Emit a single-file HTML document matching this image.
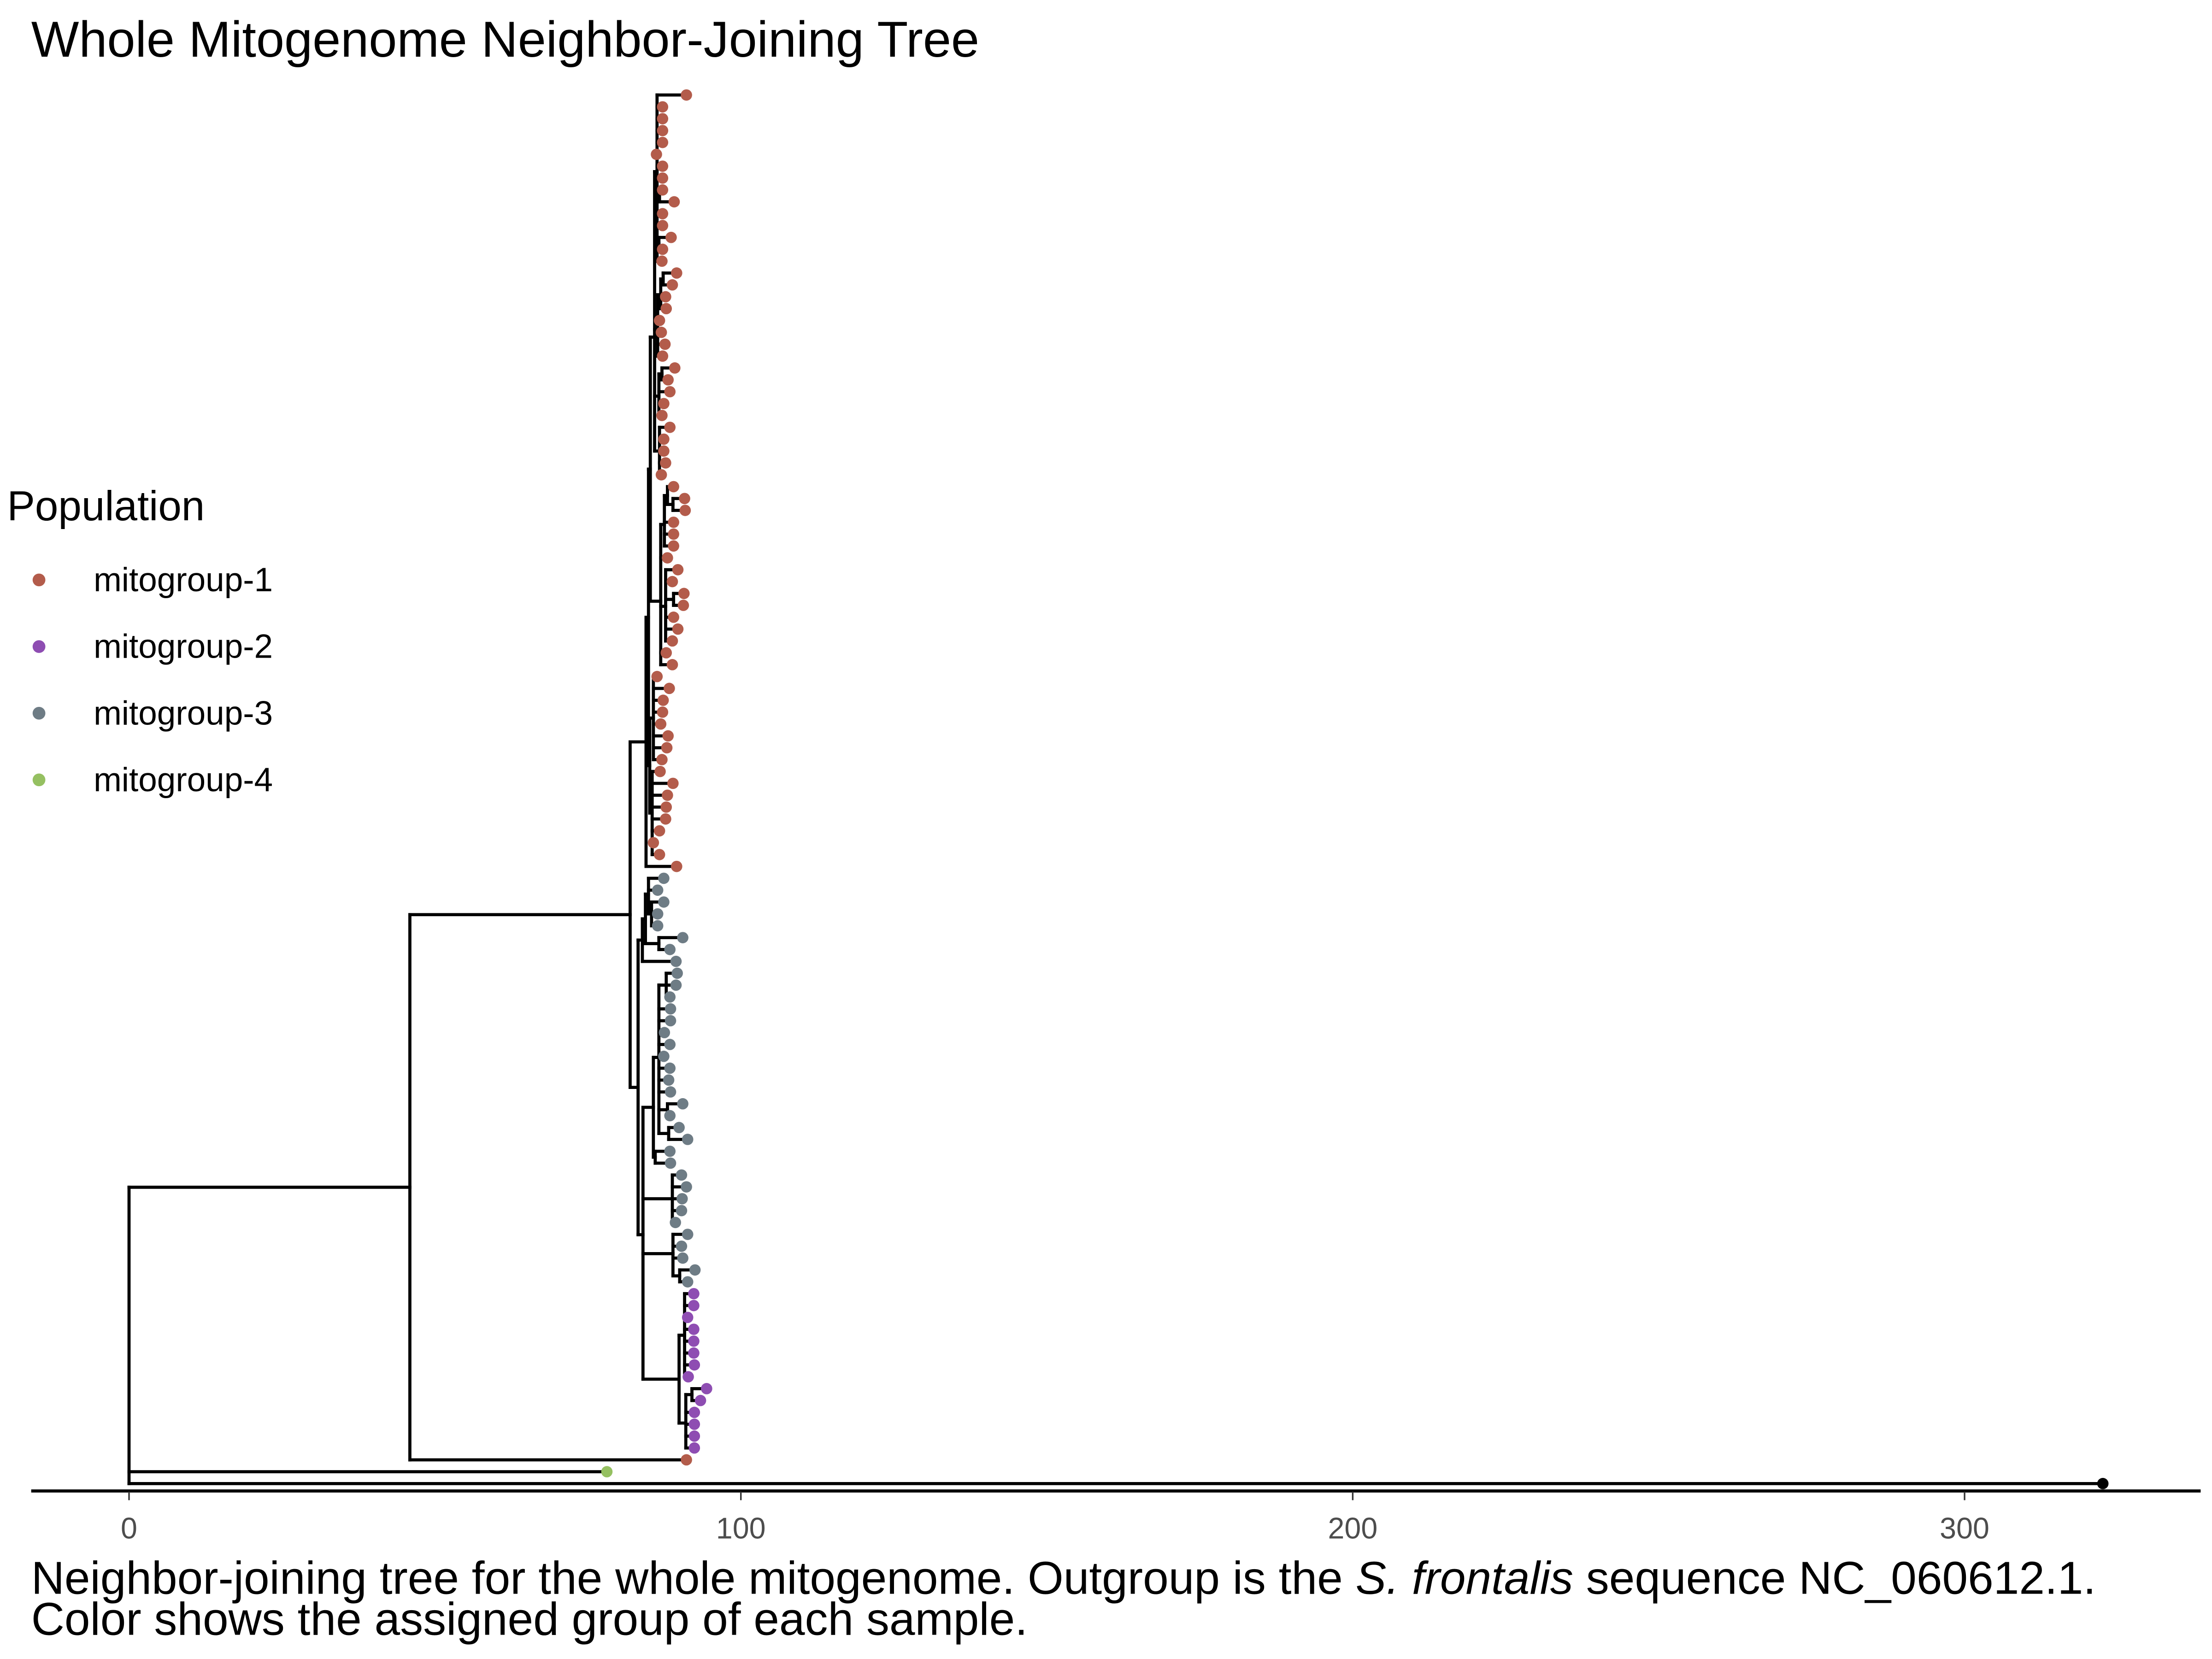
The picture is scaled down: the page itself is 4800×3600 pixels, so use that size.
<!DOCTYPE html>
<html><head><meta charset="utf-8"><style>
html,body{margin:0;padding:0;background:#fff;}
svg{display:block;}
text{font-family:"Liberation Sans",sans-serif;}
</style></head><body>
<svg id="chart" width="4800" height="3600" viewBox="0 0 1560 1170" xmlns="http://www.w3.org/2000/svg">
<text x="22" y="40" font-size="35.7" fill="#000">Whole Mitogenome Neighbor-Joining Tree</text>
<g id="tree"></g>
<g id="axis"></g>
<g>
<text x="5" y="367" font-size="29.5">Population</text>
<circle cx="27.5" cy="409" r="4.5" fill="#b35c4b"/>
<text x="66" y="417" font-size="23.7">mitogroup-1</text>
<circle cx="27.5" cy="456" r="4.5" fill="#8e4db2"/>
<text x="66" y="464" font-size="23.7">mitogroup-2</text>
<circle cx="27.5" cy="503" r="4.5" fill="#6e7c85"/>
<text x="66" y="511" font-size="23.7">mitogroup-3</text>
<circle cx="27.5" cy="550" r="4.5" fill="#95c061"/>
<text x="66" y="558" font-size="23.7">mitogroup-4</text>
</g>
<text x="22" y="1124" font-size="32.5">Neighbor-joining tree for the whole mitogenome. Outgroup is the <tspan font-style="italic">S. frontalis</tspan> sequence NC_060612.1.</text>
<text x="22" y="1153" font-size="32.5">Color shows the assigned group of each sample.</text>
</svg>
<script>
const tipDist = [
91.1,87.2,87.2,87.2,87.2,86.2,87.2,87.2,87.2,89.1,
87.2,87.2,88.6,87.2,87.1,89.5,88.8,87.7,87.8,86.7,
87.0,87.6,87.2,89.2,88.1,88.4,87.4,87.1,88.4,87.4,
87.4,87.7,87.0,89.0,90.8,90.9,89.0,89.0,89.0,88.0,
89.7,88.8,90.7,90.6,89.0,89.7,88.8,87.8,88.8,86.3,
88.3,87.3,87.2,86.9,88.1,87.9,87.1,86.8,88.9,88.0,
87.8,87.7,86.7,85.7,86.7,89.5,
87.4,86.4,87.4,86.4,86.4,90.5,88.4,89.4,89.6,89.4,
88.4,88.5,88.5,87.5,88.4,87.4,88.4,88.2,88.5,90.5,
88.4,89.9,91.3,88.4,88.5,90.3,91.1,90.4,90.3,89.3,
91.3,90.3,90.5,92.5,91.3,
92.3,92.3,91.3,92.3,92.3,92.3,92.4,91.4,94.4,93.4,92.4,92.4,92.4,92.4,
91.1,78.1,322.6];
const tipGroup = [].concat(
  Array(66).fill(1), Array(35).fill(3), Array(14).fill(2), [1,4,0]);
const groupColors = ["#000000","#b35c4b","#8e4db2","#6e7c85","#95c061"];
const xTicks = [0,100,200,300];
// topology: [nodeDistance, children...]; numbers are tip indices
const redUpper = [85.2,
  [85.9,[86.3,0,1,2,3,4,5,6,7,[86.7,8,9],10,11,[86.6,12,13],14],[86.4,[86.9,[87.3,15,16],17,18],19,20,21,22],[86.6,[87.1,23,24],25,26,27],[86.7,28,29,30,31,32]],
  [86.9,[87.5,[88.0,33,[88.9,34,35]],36,37,38],39,[87.7,40,41,[89.0,42,43],44,45,46],47,48]];
const redLower = [85.1,[85.7,49,50,51,52,53,54,55,56],[85.5,57,58,59,60,61,62,63,64]];
const redClade = [84.5,[84.9,redUpper,redLower],65];
const lowerClade = [83.2,
 [83.9,[84.4,[84.9,66,67,[85.4,68,69,70]],[86.6,71,72]],73],
 [84.0,
  [85.7,[86.6,[87.8,74,75,76],77,78,79,80,81,82,83,84,[88.0,85,86],[88.2,87,88]],[86.0,89,90]],
  [88.8,91,92,93,94,95],
  [88.9,96,97,98,[90.0,99,100]],
  [89.9,[90.8,101,102,103,104,105,106,107,108],[91.0,[92.0,109,110],111,112,113,114]]]];
const treeRoot = [0,[45.9,[81.9,redClade,lowerClade],115],116,117];

const NS="http://www.w3.org/2000/svg";
const X0=91, XS=4.315, Y0=67, YS=8.37;
const xScale=d=>X0+d*XS;
const yScale=i=>Y0+i*YS;
const tree=document.getElementById('tree');
const lines=document.createElementNS(NS,'g');
const pts=document.createElementNS(NS,'g');
tree.appendChild(lines);tree.appendChild(pts);
function line(x1,y1,x2,y2,name){
  const l=document.createElementNS(NS,'line');
  l.setAttribute('x1',x1);l.setAttribute('y1',y1);l.setAttribute('x2',x2);l.setAttribute('y2',y2);
  l.setAttribute('stroke','#000');l.setAttribute('stroke-width','2.2');l.setAttribute('stroke-linecap','square');
  
  
  lines.appendChild(l);
}
function draw(node,parentD){
  if(typeof node==='number'){
    const y=yScale(node);
    line(xScale(parentD),y,xScale(tipDist[node]),y,'tip-branch');
    const c=document.createElementNS(NS,'circle');
    c.setAttribute('cx',xScale(tipDist[node]));c.setAttribute('cy',y);c.setAttribute('r','4');
    c.setAttribute('fill',groupColors[tipGroup[node]]);
    
    
    pts.appendChild(c);
    return y;
  }
  const d=node[0];
  const ys=node.slice(1).map(ch=>draw(ch,d));
  line(xScale(d),Math.min(...ys),xScale(d),Math.max(...ys),'node-vertical');
  const y=ys.reduce((a,b)=>a+b,0)/ys.length;
  if(parentD!==null) line(xScale(parentD),y,xScale(d),y,'internal-branch');
  return y;
}
draw(treeRoot,null);

const axis=document.getElementById('axis');
const al=document.createElementNS(NS,'line');
al.setAttribute('x1',22);al.setAttribute('x2',1552);al.setAttribute('y1',1051.5);al.setAttribute('y2',1051.5);
al.setAttribute('stroke','#000');al.setAttribute('stroke-width','2.2');


axis.appendChild(al);
xTicks.forEach(t=>{
  const tk=document.createElementNS(NS,'line');
  tk.setAttribute('x1',xScale(t));tk.setAttribute('x2',xScale(t));tk.setAttribute('y1',1052);tk.setAttribute('y2',1058);
  tk.setAttribute('stroke','#333');tk.setAttribute('stroke-width','1.1');
  
  
  axis.appendChild(tk);
  const tx=document.createElementNS(NS,'text');
  tx.setAttribute('x',xScale(t));tx.setAttribute('y',1085);tx.setAttribute('text-anchor','middle');
  tx.setAttribute('font-size','21');tx.setAttribute('fill','#4d4d4d');
  tx.textContent=t;
  
  
  axis.appendChild(tx);
});
</script>
</body></html>
